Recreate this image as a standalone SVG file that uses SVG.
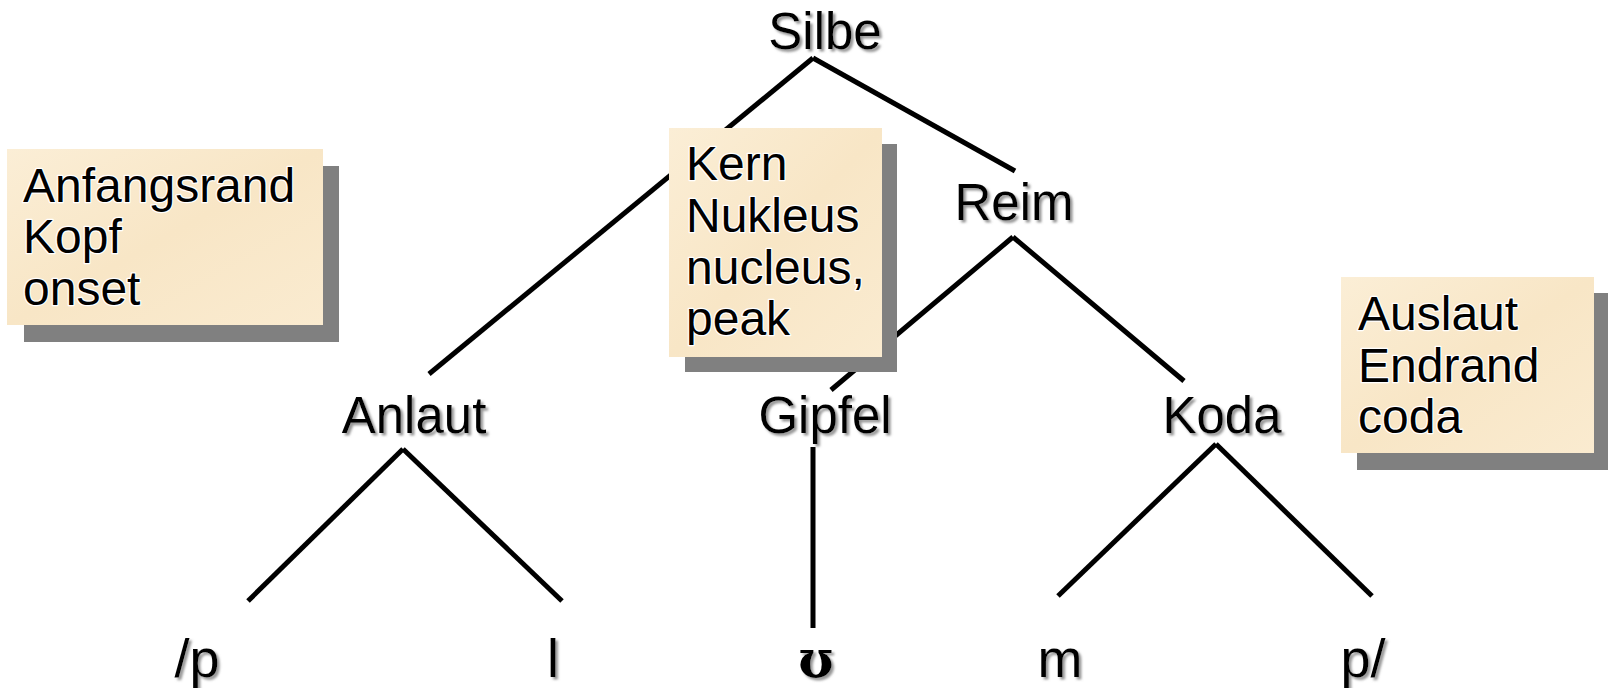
<svg xmlns="http://www.w3.org/2000/svg" width="1608" height="688" viewBox="0 0 1608 688">
  <style>
    .lbl { font-family: "Liberation Sans", Arial, sans-serif; font-size: 51px; fill: #000; text-anchor: middle; filter: url(#tshadow); }
    .seg { font-family: "Liberation Sans", "DejaVu Sans", Arial, sans-serif; font-size: 54px; fill: #000; text-anchor: middle; filter: url(#tshadow); }
    .ipa { font-family: "DejaVu Serif", "Liberation Serif", serif; font-size: 52px; font-weight: bold; }
    .note { font-family: "Liberation Sans", Arial, sans-serif; font-size: 48px; fill: #000; stroke: #fff; stroke-width: 2.5px; paint-order: stroke; stroke-linejoin: round; }
    .box { fill: url(#parch); }
    .shadow { fill: #808080; }
    .edge { stroke: #000; stroke-width: 5; fill: none; stroke-linecap: butt; }
  </style>
  <defs>
    <filter id="tshadow" x="-10%" y="-20%" width="130%" height="150%">
      <feDropShadow dx="2.5" dy="2.5" stdDeviation="0.8" flood-color="#8a8a8a" flood-opacity="0.9"/>
    </filter>
    <linearGradient id="parch" x1="0" y1="0" x2="1" y2="1">
      <stop offset="0" stop-color="#FBEED6"/>
      <stop offset="0.5" stop-color="#F8E6C6"/>
      <stop offset="1" stop-color="#FAEBD0"/>
    </linearGradient>
  </defs>
  <rect width="1608" height="688" fill="#fff"/>

  <g id="connectors">
    <line class="edge" x1="813" y1="58" x2="429" y2="374"/>
    <line class="edge" x1="813" y1="58" x2="1015" y2="171"/>
    <line class="edge" x1="1013" y1="237" x2="831" y2="390"/>
    <line class="edge" x1="1013" y1="237" x2="1184" y2="381"/>
    <line class="edge" x1="403" y1="449" x2="248" y2="601"/>
    <line class="edge" x1="403" y1="449" x2="562" y2="601"/>
    <line class="edge" x1="813" y1="447" x2="813" y2="628"/>
    <line class="edge" x1="1216" y1="444" x2="1058" y2="596"/>
    <line class="edge" x1="1216" y1="444" x2="1372" y2="596"/>
  </g>

  <g id="note-onset">
    <rect class="shadow" x="24" y="166" width="315" height="176"/>
    <rect class="box" x="7" y="149" width="316" height="176"/>
    <text class="note" x="23" y="202">Anfangsrand</text>
    <text class="note" x="23" y="253">Kopf</text>
    <text class="note" x="23" y="305">onset</text>
  </g>

  <g id="note-nucleus">
    <rect class="shadow" x="685" y="144" width="212" height="228"/>
    <rect class="box" x="669" y="128" width="213" height="229"/>
    <text class="note" x="686" y="180">Kern</text>
    <text class="note" x="686" y="232">Nukleus</text>
    <text class="note" x="686" y="284">nucleus,</text>
    <text class="note" x="686" y="335">peak</text>
  </g>

  <g id="note-coda">
    <rect class="shadow" x="1357" y="293" width="251" height="177"/>
    <rect class="box" x="1341" y="277" width="253" height="176"/>
    <text class="note" x="1358" y="330">Auslaut</text>
    <text class="note" x="1358" y="382">Endrand</text>
    <text class="note" x="1358" y="433">coda</text>
  </g>

  <g id="silbe"><text class="lbl" x="825" y="49">Silbe</text></g>
  <g id="reim"><text class="lbl" x="1014" y="220">Reim</text></g>
  <g id="anlaut"><text class="lbl" x="414" y="433">Anlaut</text></g>
  <g id="gipfel"><text class="lbl" x="825" y="433">Gipfel</text></g>
  <g id="koda"><text class="lbl" x="1222" y="433">Koda</text></g>

  <g id="seg-p1"><text class="seg" x="197" y="677">/p</text></g>
  <g id="seg-l"><text class="seg" x="553" y="677">l</text></g>
  <g id="seg-u"><text class="seg ipa" x="816" y="677">ʊ</text></g>
  <g id="seg-m"><text class="seg" x="1060" y="677">m</text></g>
  <g id="seg-p2"><text class="seg" x="1363" y="677">p/</text></g>
</svg>
